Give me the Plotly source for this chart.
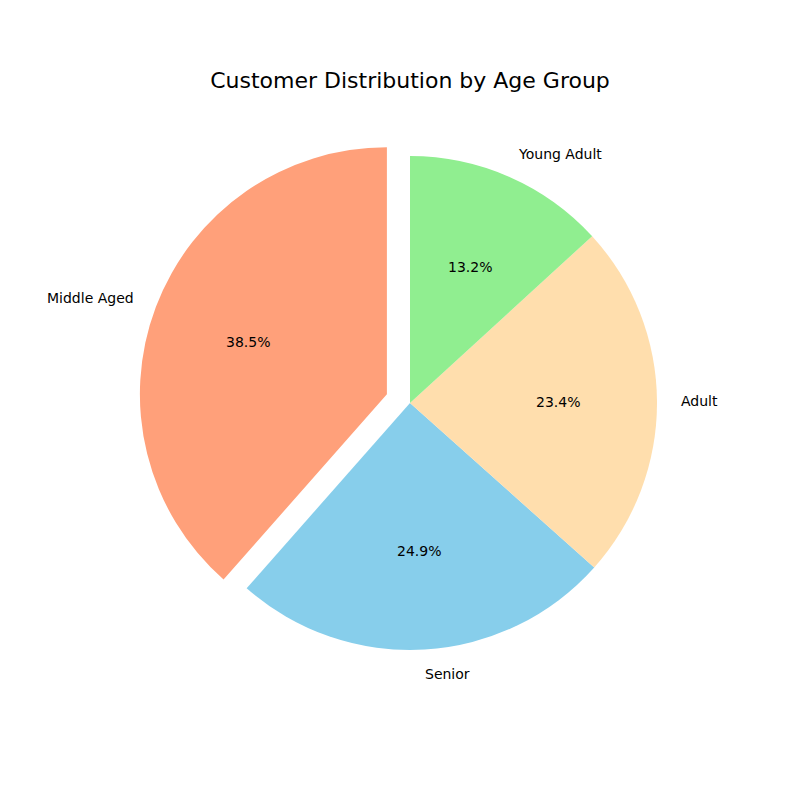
import math
import plotly.graph_objects as go

labels = ["Middle Aged", "Senior", "Adult", "Young Adult"]
values = [38.5, 24.9, 23.4, 13.2]
colors = ["#FFA07A", "#87CEEB", "#FFDEAD", "#90EE90"]
explode = [0.1, 0, 0, 0]

W = H = 800
cx, cy = 410 / W, 1 - 403 / H   # pie centre (paper)
r = 247 / W                      # pie radius (paper)
max_pull = max(explode)
half = r * (1 + max_pull)
total = sum(values)

fig = go.Figure(go.Pie(
    labels=labels, values=values, sort=False, direction="counterclockwise",
    rotation=-360.0 * values[0] / total, pull=explode, textinfo="none",
    hoverinfo="label+percent",
    marker=dict(colors=colors, line=dict(width=0)),
    domain=dict(x=[cx - half, cx + half], y=[cy - half, cy + half]),
    showlegend=False,
))

annotations = []
start = 90.0
for lab, v, ex in zip(labels, values, explode):
    span = 360.0 * v / total
    mid = math.radians(start + span / 2)
    start += span
    c, s = math.cos(mid), math.sin(mid)
    ox, oy = cx + ex * r * c, cy + ex * r * s
    annotations.append(dict(
        x=ox + 1.1 * r * c, y=oy + 1.1 * r * s, xref="paper", yref="paper",
        text=lab, showarrow=False, xanchor="left" if c > 0 else "right",
        xshift=-3 if c > 0 else 3,
        yanchor="middle", font=dict(size=14, color="black", family="DejaVu Sans")))
    annotations.append(dict(
        x=ox + 0.6 * r * c, y=oy + 0.6 * r * s, xref="paper", yref="paper",
        text=f"{100 * v / total:.1f}%", showarrow=False, xanchor="center",
        yanchor="middle", font=dict(size=14, color="black", family="DejaVu Sans")))

fig.update_layout(
    width=W, height=H, margin=dict(l=0, r=0, t=0, b=0),
    paper_bgcolor="white", plot_bgcolor="white",
    title=dict(text="Customer Distribution by Age Group", x=cx, y=0.9,
               xanchor="center", yanchor="middle",
               font=dict(size=22, color="black", family="DejaVu Sans")),
    annotations=annotations,
)

fig.write_html("out.html")
